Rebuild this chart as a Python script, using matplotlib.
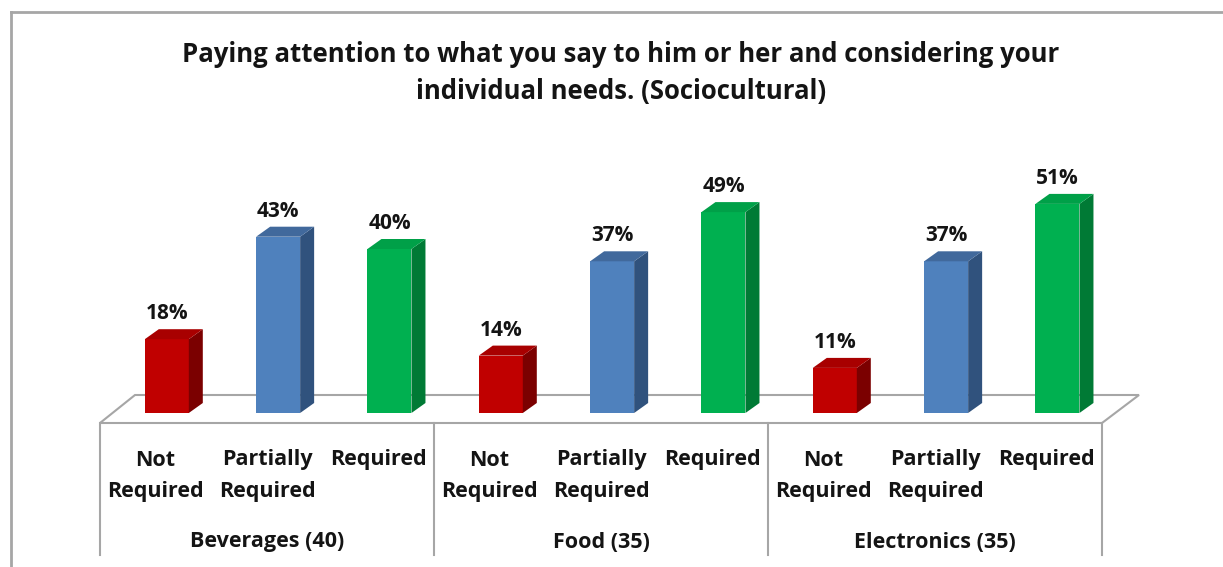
import numpy as np
import matplotlib.pyplot as plt
from matplotlib.patches import Polygon
from matplotlib.lines import Line2D

title = ["Paying attention to what you say to him or her and considering your",
         "individual needs. (Sociocultural)"]
groups = ["Beverages (40)", "Food (35)", "Electronics (35)"]
levels = [["Not", "Required"], ["Partially", "Required"], ["Required"]]
not_required = [18, 14, 11]
partially_required = [43, 37, 37]
required = [40, 49, 51]

front = ['#C00000', '#4F81BD', '#00B050']
side = ['#7B0000', '#30527D', '#007A35']
top = ['#A80000', '#41699C', '#00A048']

plt.rcParams['font.family'] = ['Open Sans', 'DejaVu Sans']
txt = '#141414'

W, H = 1223, 567
fig = plt.figure(figsize=(W / 100, H / 100), dpi=100)

# plot area, placed in pixels
x0, x1, ybase = 100, 1102, 413
ppu = 4.1  # pixels per percent point
ax = fig.add_axes([x0 / W, (H - ybase) / H, (x1 - x0) / W, 60 * ppu / H])
ax.set_xlim(-0.5, 8.5)
ax.set_ylim(0, 60)
ax.axis('off')

unit = (x1 - x0) / 9
dx = 14 / unit
dy = 10 / ppu
bw = 44 / unit

# floor
fy0, fy1 = -10 / ppu, 18 / ppu
floor = Polygon([(-0.5, fy0), (8.5, fy0), (8.5 + 37 / unit, fy1), (-0.5 + 35 / unit, fy1)],
                closed=True, fc='white', ec='#A6A6A6', lw=1.5, zorder=1, clip_on=False)
ax.add_patch(floor)

# group separators
for xs in [-0.5, 2.5, 5.5, 8.5]:
    ax.plot([xs, xs], [fy0, -142 / ppu], color='#A6A6A6', lw=1.5, clip_on=False, zorder=1)

vals = np.array([not_required, partially_required, required]).T.ravel()
pos = np.arange(len(vals)) + 0.1
bars = ax.bar(pos, vals, width=bw, color=front * len(groups), zorder=3)
for i, (b, v) in enumerate(zip(bars, vals)):
    k = i % 3
    xl = b.get_x()
    xr = xl + b.get_width()
    h = b.get_height()
    ax.add_patch(Polygon([(xr, 0), (xr + dx, dy), (xr + dx, h + dy), (xr, h)],
                         closed=True, fc=side[k], ec='none', zorder=3))
    ax.add_patch(Polygon([(xl, h), (xr, h), (xr + dx, h + dy), (xl + dx, h + dy)],
                         closed=True, fc=top[k], ec='none', zorder=3))
    ax.text(xl + b.get_width() / 2, h + dy + 5 / ppu, f'{v}%', ha='center', va='bottom',
            fontsize=15, fontweight='bold', color=txt)

# category labels, one text per line
for i in range(len(vals)):
    for j, line in enumerate(levels[i % 3]):
        ax.text(i, -(47 + 31 * j) / ppu, line, ha='center', va='center', fontsize=15.5,
                fontweight='bold', color=txt, clip_on=False)
for g, name in enumerate(groups):
    ax.text(3 * g + 1, -129 / ppu, name, ha='center', va='center', fontsize=15.5,
            fontweight='bold', color=txt, clip_on=False)

for j, line in enumerate(title):
    fig.text(621 / W, 1 - (54 + 37 * j) / H, line, ha='center', va='center', fontsize=18.5,
             fontweight='bold', color=txt)

# chart border
fig.add_artist(Line2D([11 / W, 11 / W], [0, 1 - 12 / H], color='#A6A6A6', lw=2))
fig.add_artist(Line2D([11 / W, 1], [1 - 12 / H, 1 - 12 / H], color='#A6A6A6', lw=2))

fig.savefig('out.png', dpi=100)
